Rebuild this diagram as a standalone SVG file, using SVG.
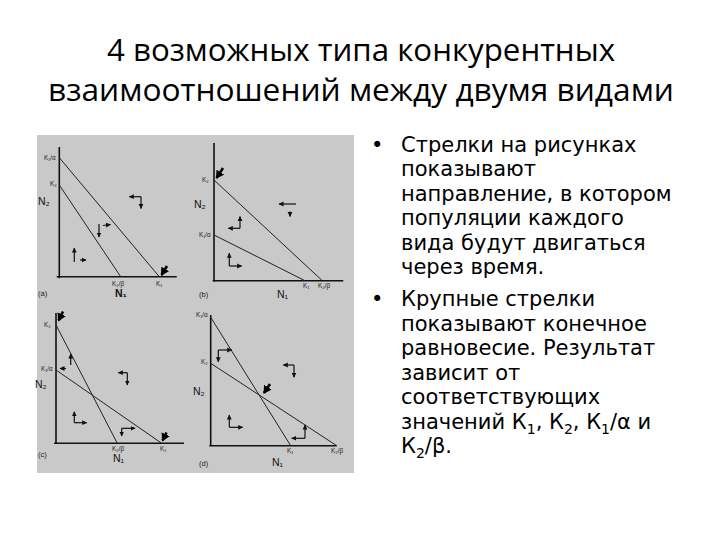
<svg xmlns="http://www.w3.org/2000/svg" width="720" height="540" viewBox="0 0 720 540">
<style>
.title{font-family:"Open Sans","Noto Sans","DejaVu Sans",sans-serif;font-size:31px;fill:#000}
.body{font-family:"DejaVu Sans","Noto Sans",sans-serif;font-size:21px;fill:#000}
.ax{stroke:#111;stroke-width:1.6;fill:none}
.ln{stroke:#222;stroke-width:1;fill:none}
.sa{stroke:#111;stroke-width:1.2;fill:none;marker-end:url(#sm)}
.ba{stroke:#000;stroke-width:2.6;fill:none;marker-end:url(#bg)}
.k{font-family:"Liberation Sans",Arial,sans-serif;font-size:6.3px;fill:#222}
.n{font-family:"Liberation Sans",Arial,sans-serif;font-size:10.5px;fill:#111}
.p{font-family:"Liberation Sans",Arial,sans-serif;font-size:7.5px;fill:#222}
</style>
<defs>
<marker id="sm" markerUnits="userSpaceOnUse" markerWidth="6" markerHeight="6" refX="4.5" refY="3" orient="auto">
<path d="M0,0.6 L5,3 L0,5.4 Z" fill="#111"/>
</marker>
<marker id="bg" markerUnits="userSpaceOnUse" markerWidth="9" markerHeight="9" refX="7" refY="4.5" orient="auto">
<path d="M0,0 L8,4.5 L0,9 Z" fill="#000"/>
</marker>
</defs>
<rect width="720" height="540" fill="#fff"/>
<g id="title">
<text class="title" x="107" y="60.5" textLength="508" lengthAdjust="spacingAndGlyphs">4 возможных типа конкурентных</text>
<text class="title" x="48" y="100.5" textLength="626" lengthAdjust="spacingAndGlyphs">взаимоотношений между двумя видами</text>
</g>
<rect id="figure-bg" x="37" y="135" width="317" height="338" fill="#c9c9c9"/>
<g id="panel-a">
<path class="ax" d="M59.3,147 V278.3 M56.7,276.7 H176.7"/>
<path class="ln" d="M59.3,157.7 L159.3,276.7 M59.3,185 L120.7,276.7"/>
<text class="k" x="44" y="160">K₁/α</text>
<text class="k" x="50" y="186">K₂</text>
<text class="n" x="38" y="205">N₂</text>
<text class="k" x="112" y="286">K₂/β</text>
<text class="k" x="156" y="286">K₁</text>
<text class="n" x="115" y="297" font-weight="bold">N₁</text>
<text class="p" x="38" y="296">(a)</text>
<path class="sa" d="M141,196.7 H129.3"/>
<path class="sa" d="M141,196.7 V208.5"/>
<path class="sa" d="M103,225.5 L110.5,224.5"/>
<path class="sa" d="M99,224 V237"/>
<path class="sa" d="M74.3,262 V248"/>
<path class="sa" d="M80,260 H86"/>
<path class="ba" d="M167,266 L161.5,275"/>
</g>
<g id="panel-b">
<path class="ax" d="M214,143 V281.7 M212.7,280.7 H343.3"/>
<path class="ln" d="M214,180 L322.3,280.7 M214,235 L305,280.7"/>
<text class="k" x="202" y="182">K₂</text>
<text class="n" x="194" y="208">N₂</text>
<text class="k" x="199" y="237">K₁/α</text>
<text class="k" x="303" y="288">K₁</text>
<text class="k" x="318" y="288">K₂/β</text>
<text class="n" x="277" y="298">N₁</text>
<text class="p" x="199" y="297">(b)</text>
<path class="sa" d="M296,204 H279"/>
<path class="sa" d="M290,211.5 V216.5"/>
<path class="sa" d="M240,228.3 V216.5"/>
<path class="sa" d="M240,228.3 H228.3"/>
<path class="sa" d="M229.3,266 V253.3"/>
<path class="sa" d="M229.3,266 H241.7"/>
<path class="ba" d="M223,168 L216.5,178"/>
</g>
<g id="panel-c">
<path class="ax" d="M56,313 V443.3 M54,443.3 H184"/>
<path class="ln" d="M56,325 L117.3,443.3 M56,370 L161.7,443.3"/>
<text class="k" x="44" y="327">K₂</text>
<text class="k" x="41" y="371">K₁/α</text>
<text class="n" x="35" y="388">N₂</text>
<text class="k" x="112" y="451">K₂/β</text>
<text class="k" x="160" y="451">K₁</text>
<text class="n" x="113" y="462">N₁</text>
<text class="p" x="38" y="457">(c)</text>
<path class="sa" d="M70.7,365 V354"/>
<path class="sa" d="M66,368.5 H60"/>
<path class="sa" d="M127.3,372.7 H118.3"/>
<path class="sa" d="M127.3,372.7 V385"/>
<path class="sa" d="M74.3,422.7 V411.7"/>
<path class="sa" d="M74.3,422.7 H86.7"/>
<path class="sa" d="M121.7,428.3 H135"/>
<path class="sa" d="M121.7,428.3 V436"/>
<path class="ba" d="M63,311.5 L58.5,320.5"/>
<path class="ba" d="M166.5,432.5 L162.5,440.5"/>
</g>
<g id="panel-d">
<path class="ax" d="M210.7,315 V445.7 M209.3,445.7 H336.7"/>
<path class="ln" d="M210.7,317.3 L290.7,445.7 M210.7,363.3 L336.7,445.7"/>
<text class="k" x="196" y="317">K₁/α</text>
<text class="k" x="201" y="364">K₂</text>
<text class="n" x="193" y="395">N₂</text>
<text class="k" x="287" y="453">K₁</text>
<text class="k" x="331" y="453">K₂/β</text>
<text class="n" x="272" y="466">N₁</text>
<text class="p" x="199" y="466">(d)</text>
<path class="sa" d="M218.3,350 H231.7"/>
<path class="sa" d="M218.3,350 V361.7"/>
<path class="sa" d="M294,365 H283.3"/>
<path class="sa" d="M294,365 V377.3"/>
<path class="sa" d="M229.3,427.3 V415"/>
<path class="sa" d="M229.3,427.3 H242.7"/>
<path class="sa" d="M305,438.3 V425"/>
<path class="sa" d="M305,438.3 H291.7"/>
<path class="ba" d="M270,384 L264,393"/>
</g>
<g id="bullets">
<text class="body" x="371" y="151.5">•</text>
<text class="body" x="401" y="151.5">Стрелки на рисунках</text>
<text class="body" x="401" y="176">показывают</text>
<text class="body" x="401" y="200.5">направление, в котором</text>
<text class="body" x="401" y="225">популяции каждого</text>
<text class="body" x="401" y="249.5">вида будут двигаться</text>
<text class="body" x="401" y="274">через время.</text>
<text class="body" x="371" y="306">•</text>
<text class="body" x="401" y="306">Крупные стрелки</text>
<text class="body" x="401" y="330.5">показывают конечное</text>
<text class="body" x="401" y="355">равновесие. Результат</text>
<text class="body" x="401" y="379.5">зависит от</text>
<text class="body" x="401" y="404">соответствующих</text>
<text class="body" x="401" y="428.5">значений К<tspan font-size="14" dy="5">1</tspan><tspan dy="-5">, К</tspan><tspan font-size="14" dy="5">2</tspan><tspan dy="-5">, К</tspan><tspan font-size="14" dy="5">1</tspan><tspan dy="-5">/α и</tspan></text>
<text class="body" x="401" y="453">К<tspan font-size="14" dy="5">2</tspan><tspan dy="-5">/β.</tspan></text>
</g>
</svg>
